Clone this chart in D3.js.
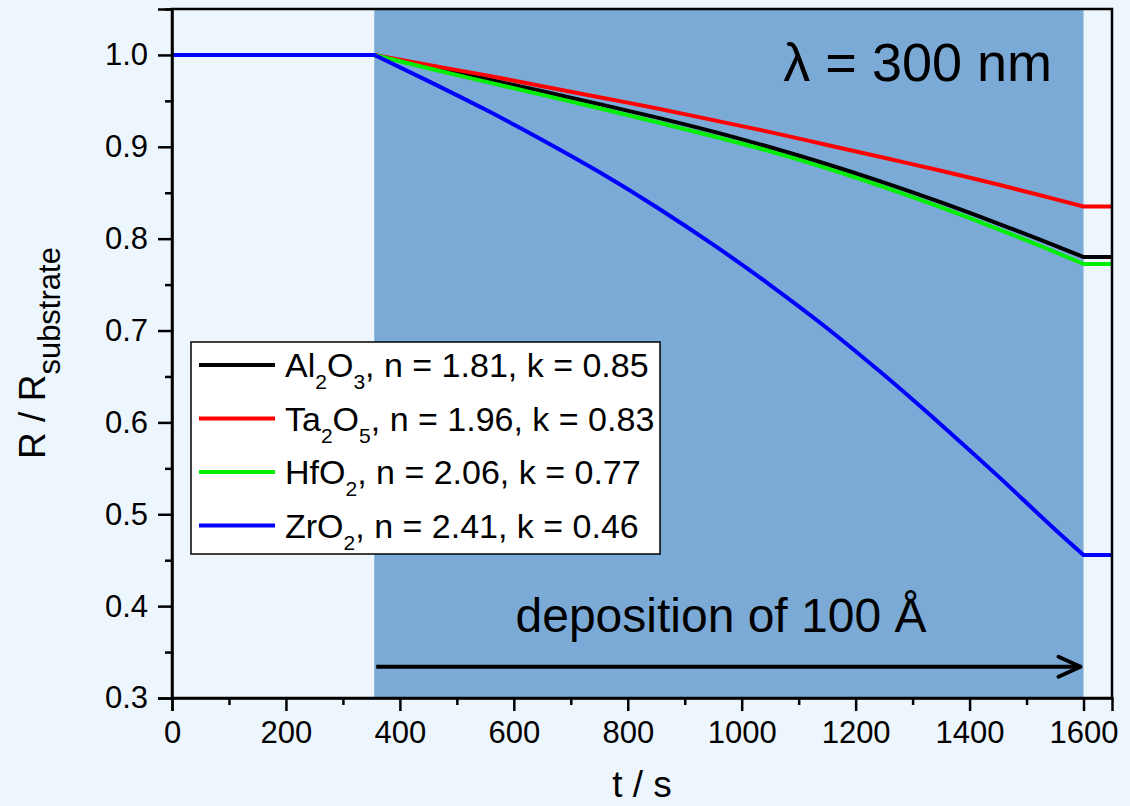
<!DOCTYPE html>
<html>
<head>
<meta charset="utf-8">
<script src="https://cdn.jsdelivr.net/npm/d3@7"></script>
<style>
  body { margin: 0; background: #edf5fd; }
  svg { display: block; font-family: "Liberation Sans", Arial, sans-serif; }
  .axis path, .axis line { stroke: #000; }
  .axis text { font-size: 31px; fill: #000; }
</style>
</head>
<body>
<svg width="1130" height="806"></svg>
<script>
// time grid (s) and reflectance ratio
const times = [0, 355, 450, 550, 650, 750, 850, 950, 1050, 1150, 1250, 1350, 1450, 1550, 1600, 1650];
const al2o3 = [1, 1, 0.987, 0.974, 0.9605, 0.9465, 0.932, 0.9165, 0.8995, 0.881, 0.861, 0.8395, 0.8165, 0.7925, 0.780, 0.780];
const ta2o5 = [1, 1, 0.989, 0.978, 0.966, 0.954, 0.942, 0.929, 0.916, 0.902, 0.888, 0.874, 0.859, 0.843, 0.835, 0.835];
const hfo2 = [1, 1, 0.9855, 0.971, 0.9565, 0.942, 0.927, 0.9115, 0.895, 0.8765, 0.856, 0.834, 0.8105, 0.7855, 0.7725, 0.7725];
const zro2 = [1, 1, 0.9715, 0.9405, 0.9075, 0.8725, 0.8345, 0.7935, 0.7495, 0.7025, 0.6515, 0.5975, 0.5415, 0.4835, 0.4557, 0.4557];

const seriesNames = [['Al', '2', 'O', '3', ', n = 1.81, k = 0.85'],
                     ['Ta', '2', 'O', '5', ', n = 1.96, k = 0.83'],
                     ['HfO', '2', ', n = 2.06, k = 0.77'],
                     ['ZrO', '2', ', n = 2.41, k = 0.46']];
const seriesColors = ['#000000', '#ff0000', '#00ee00', '#0000ff'];
const seriesValues = [al2o3, ta2o5, hfo2, zro2];

const depoStart = 355, depoEnd = 1600;
const xTicks = [0, 200, 400, 600, 800, 1000, 1200, 1400, 1600];
const yTicks = [0.3, 0.4, 0.5, 0.6, 0.7, 0.8, 0.9, 1.0];

const svg = d3.select('svg');
const margin = { left: 172, right: 18, top: 9, bottom: 108 };
const W = 1130, H = 806;

const x = d3.scaleLinear().domain([0, 1650]).range([margin.left, W - margin.right]);
const y = d3.scaleLinear().domain([0.3, 1.05]).range([H - margin.bottom, margin.top]);

// shaded deposition window
svg.append('rect')
  .attr('x', x(depoStart)).attr('y', y(1.05))
  .attr('width', x(depoEnd) - x(depoStart))
  .attr('height', y(0.3) - y(1.05))
  .attr('fill', '#7baad7');

// curves: flat before, smooth during, flat after deposition
const flat = d3.line().x(d => x(d[0])).y(d => y(d[1]));
const smooth = d3.line().x(d => x(d[0])).y(d => y(d[1])).curve(d3.curveMonotoneX);
seriesValues.forEach((vals, i) => {
  const pts = times.map((t, j) => [t, vals[j]]);
  const iStart = times.indexOf(depoStart), iEnd = times.indexOf(depoEnd);
  const d = flat(pts.slice(0, iStart + 1)) +
    smooth(pts.slice(iStart, iEnd + 1)).replace(/^M/, 'L') +
    flat(pts.slice(iEnd)).replace(/^M/, 'L');
  svg.append('path')
    .attr('d', d)
    .attr('fill', 'none')
    .attr('stroke', seriesColors[i])
    .attr('stroke-width', 4)
    .attr('stroke-linejoin', 'round');
});

// frame
svg.append('rect')
  .attr('x', x(0)).attr('y', y(1.05))
  .attr('width', x(1650) - x(0)).attr('height', y(0.3) - y(1.05))
  .attr('fill', 'none').attr('stroke', '#000').attr('stroke-width', 2.5);

// x axis
const xMinor = d3.range(100, 1650, 200);
svg.append('g').attr('class', 'axis')
  .attr('transform', `translate(0,${y(0.3)})`)
  .call(d3.axisBottom(x).tickValues(xMinor).tickSize(7).tickFormat(''))
  .call(g => g.select('.domain').remove())
  .selectAll('line').attr('stroke-width', 2.5);
const xg = svg.append('g').attr('class', 'axis')
  .attr('transform', `translate(0,${y(0.3)})`)
  .call(d3.axisBottom(x).tickValues(xTicks).tickSize(13).tickPadding(10).tickFormat(d3.format('d')));
xg.select('.domain').attr('stroke-width', 2.5);
xg.selectAll('line').attr('stroke-width', 2.5);

// y axis
const yMinor = d3.range(0.35, 1.06, 0.1);
svg.append('g').attr('class', 'axis')
  .attr('transform', `translate(${x(0)},0)`)
  .call(d3.axisLeft(y).tickValues(yMinor).tickSize(7).tickFormat(''))
  .call(g => g.select('.domain').remove())
  .selectAll('line').attr('stroke-width', 2.5);
const yg = svg.append('g').attr('class', 'axis')
  .attr('transform', `translate(${x(0)},0)`)
  .call(d3.axisLeft(y).tickValues(yTicks).tickSize(14).tickPadding(10).tickFormat(d3.format('.1f')));
yg.select('.domain').attr('stroke-width', 2.5);
yg.selectAll('line').attr('stroke-width', 2.5);

// axis titles
svg.append('text')
  .attr('x', (x(0) + x(1650)) / 2).attr('y', 797)
  .attr('text-anchor', 'middle').attr('font-size', 37)
  .text('t / s');

const yt = svg.append('text')
  .attr('transform', 'translate(45,353) rotate(-90)')
  .attr('text-anchor', 'middle').attr('font-size', 37);
yt.append('tspan').text('R / R');
yt.append('tspan').attr('dy', 15).attr('font-size', 31).text('substrate');

// annotations
svg.append('text')
  .attr('x', 1052).attr('y', 81)
  .attr('text-anchor', 'end').attr('font-size', 54)
  .text('λ = 300 nm');

svg.append('text')
  .attr('x', 721).attr('y', 632)
  .attr('text-anchor', 'middle').attr('font-size', 48)
  .text('deposition of 100 Å');

const ay = y(0.334);
svg.append('line')
  .attr('x1', x(depoStart) + 2).attr('x2', x(depoEnd) - 3)
  .attr('y1', ay).attr('y2', ay)
  .attr('stroke', '#000').attr('stroke-width', 4);
svg.append('path')
  .attr('d', `M${x(depoEnd) - 25},${ay - 10} L${x(depoEnd) - 3},${ay} L${x(depoEnd) - 25},${ay + 10}`)
  .attr('fill', 'none').attr('stroke', '#000').attr('stroke-width', 4)
  .attr('stroke-linecap', 'round').attr('stroke-linejoin', 'round');

// legend
const lg = svg.append('g').attr('transform', 'translate(191,342)');
lg.append('rect')
  .attr('width', 469).attr('height', 212)
  .attr('fill', '#fff').attr('stroke', '#000').attr('stroke-width', 1.5);
seriesNames.forEach((parts, i) => {
  const ry = 23 + i * 53.5;
  lg.append('line')
    .attr('x1', 8).attr('x2', 84).attr('y1', ry).attr('y2', ry)
    .attr('stroke', seriesColors[i]).attr('stroke-width', 4);
  const t = lg.append('text')
    .attr('x', 94).attr('y', ry + 12).attr('font-size', 34);
  parts.forEach((p, j) => {
    const isSub = /^\d$/.test(p);
    const ts = t.append('tspan').text(p);
    if (isSub) ts.attr('font-size', 21).attr('dy', 12);
    else if (j > 0) ts.attr('dy', -12);
  });
});
</script>
</body>
</html>
